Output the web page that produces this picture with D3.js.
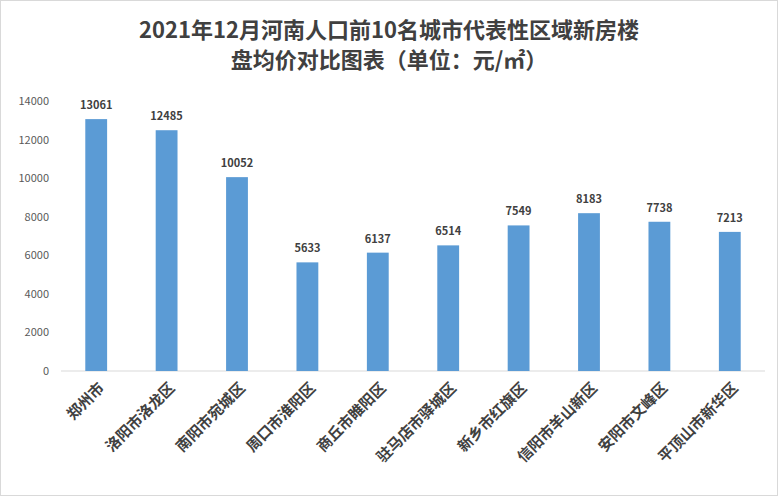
<!DOCTYPE html>
<html lang="zh">
<head>
<meta charset="UTF-8">
<script src="https://d3js.org/d3.v7.min.js"></script>
<style>
  body { margin: 0; background: #fff; }
  text { font-family: "Noto Sans CJK SC", sans-serif; }
</style>
</head>
<body>
<svg id="chart" width="778" height="496"></svg>
<script>
const cities = ["郑州市", "洛阳市洛龙区", "南阳市宛城区", "周口市淮阳区", "商丘市睢阳区",
  "驻马店市驿城区", "新乡市红旗区", "信阳市羊山新区", "安阳市文峰区", "平顶山市新华区"];
const prices = [13061, 12485, 10052, 5633, 6137, 6514, 7549, 8183, 7738, 7213];
const yTicks = [0, 2000, 4000, 6000, 8000, 10000, 12000, 14000];
const titleLines = ["2021年12月河南人口前10名城市代表性区域新房楼", "盘均价对比图表（单位：元/㎡）"];

const svg = d3.select("#chart");
svg.append("rect").attr("x", 0.5).attr("y", 0.5).attr("width", 777).attr("height", 495)
  .attr("fill", "#fff").attr("stroke", "#d9d9d9");

svg.selectAll(".title").data(titleLines).enter().append("text")
  .attr("x", 389).attr("y", (d, i) => 38 + i * 30)
  .attr("text-anchor", "middle").attr("font-size", 22).attr("font-weight", "bold")
  .attr("fill", "#404040").text(d => d);

const x = d3.scaleBand().domain(cities).range([61, 765]).paddingInner(0.69).paddingOuter(0.345);
const y = d3.scaleLinear().domain([0, 14000]).range([371, 101]);

// gridline / baseline
svg.append("line").attr("x1", 61).attr("x2", 765).attr("y1", y(0)).attr("y2", y(0))
  .attr("stroke", "#d9d9d9");

svg.selectAll(".ytick").data(yTicks).enter().append("text")
  .attr("x", 49).attr("y", d => y(d) + 4).attr("text-anchor", "end")
  .attr("font-size", 11).attr("fill", "#595959").text(d => d);

svg.selectAll(".bar").data(prices).enter().append("rect")
  .attr("x", (d, i) => x(cities[i])).attr("width", x.bandwidth())
  .attr("y", d => y(d)).attr("height", d => y(0) - y(d)).attr("fill", "#5b9bd5");

svg.selectAll(".val").data(prices).enter().append("text")
  .attr("x", (d, i) => x(cities[i]) + x.bandwidth() / 2).attr("y", d => y(d) - 10)
  .attr("text-anchor", "middle").attr("font-size", 11).attr("font-weight", "bold")
  .attr("fill", "#404040").text(d => d);

svg.selectAll(".cat").data(cities).enter().append("text")
  .attr("transform", d => `translate(${x(d) + x.bandwidth() / 2 + 9},${y(0) + 18}) rotate(-45)`)
  .attr("text-anchor", "end").attr("font-size", 15).attr("font-weight", "bold")
  .attr("fill", "#404040").text(d => d);
</script>
</body>
</html>
